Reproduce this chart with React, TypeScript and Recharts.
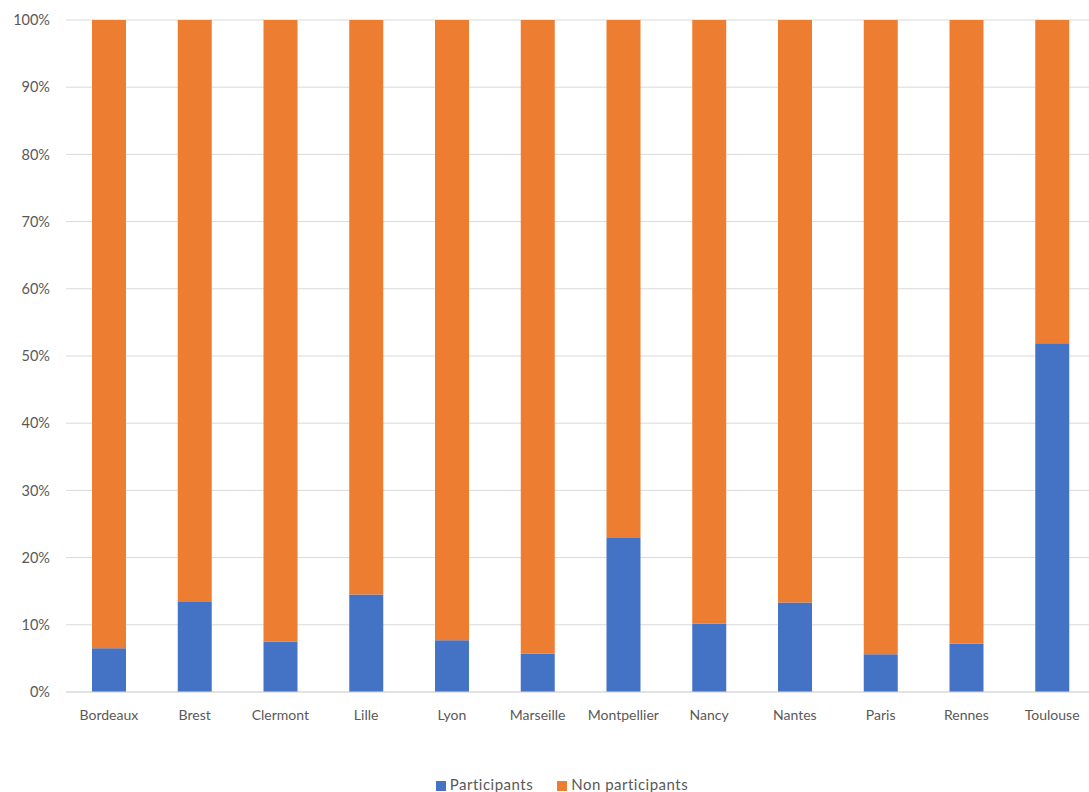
import { BarChart, Bar, XAxis, YAxis, CartesianGrid, Legend } from 'recharts'

const cities = ['Bordeaux', 'Brest', 'Clermont', 'Lille', 'Lyon', 'Marseille', 'Montpellier', 'Nancy', 'Nantes', 'Paris', 'Rennes', 'Toulouse']
const participants = [6.5, 13.4, 7.5, 14.5, 7.7, 5.7, 22.9, 10.2, 13.3, 5.6, 7.2, 51.9]
const nonParticipants = [93.5, 86.6, 92.5, 85.5, 92.3, 94.3, 77.1, 89.8, 86.7, 94.4, 92.8, 48.1]
const yTicks = [0, 10, 20, 30, 40, 50, 60, 70, 80, 90, 100]
const seriesOrder = ['Participants', 'Non participants']

const data = cities.map((city, i) => ({
  city,
  participants: participants[i],
  nonParticipants: nonParticipants[i],
}))

const font = 'Lato, "Open Sans", sans-serif'

export default function App() {
  return (
    <div style={{ position: 'absolute', left: 0, top: 0, width: 1089, height: 792, overflow: 'hidden', background: '#fff' }}>
      <BarChart
        width={1095}
        height={792}
        data={data}
        margin={{ top: 20, right: 0, left: 0, bottom: 0 }}
        barSize={34}
      >
        <CartesianGrid vertical={false} stroke="#d9d9d9" />
        <XAxis
          dataKey="city"
          height={80}
          tickLine={false}
          axisLine={{ stroke: '#d9d9d9' }}
          tickMargin={12}
          interval={0}
          tick={{ fontSize: 14, fill: '#595959', fontFamily: font }}
        />
        <YAxis
          width={66}
          domain={[0, 100]}
          ticks={yTicks}
          tickFormatter={(v: number) => `${v}%`}
          tickLine={false}
          axisLine={false}
          tickMargin={10}
          tick={{ fontSize: 14.5, fill: '#595959', fontFamily: font }}
        />
        <Legend
          iconType="square"
          iconSize={10}
          itemSorter={(item: any) => seriesOrder.indexOf(item.value)}
          wrapperStyle={{ position: 'absolute', top: 775, left: 12, width: 1124, height: 20, fontFamily: font, fontSize: 15, letterSpacing: 0.5 }}
          formatter={(value: string) => <span style={{ color: '#595959', marginRight: 14 }}>{value}</span>}
        />
        <Bar dataKey="participants" name="Participants" stackId="a" fill="#4472C4" isAnimationActive={false} legendType="square" />
        <Bar dataKey="nonParticipants" name="Non participants" stackId="a" fill="#ED7D31" isAnimationActive={false} legendType="square" />
      </BarChart>
    </div>
  )
}
